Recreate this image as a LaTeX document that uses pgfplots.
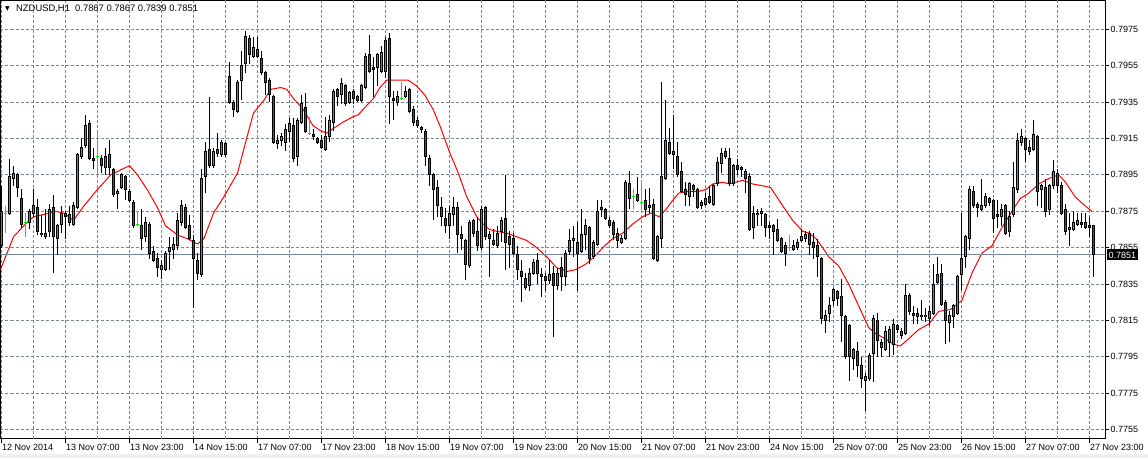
\documentclass[border=0pt]{standalone}
\usepackage{fontspec}
\setmainfont{Liberation Sans}
\newfontfamily\dejavu{DejaVu Sans}
\usepackage{pgfplots}
\usepackage{pgfplotstable}
\pgfplotsset{compat=1.18}
\definecolor{gridc}{RGB}{119,136,153}
\definecolor{upc}{RGB}{60,170,60}
\definecolor{dnc}{RGB}{215,25,25}
\definecolor{dojic}{RGB}{0,235,0}

\pgfplotstableread{
i o h l c
0 0.7856 0.7889 0.7855 0.7875
2 0.7874 0.7904 0.7873 0.7894
3 0.7893 0.7900 0.7889 0.7896
7 0.7869 0.7876 0.7865 0.7875
8 0.7874 0.7887 0.7872 0.7878
11 0.7861 0.7876 0.7860 0.7863
12 0.7864 0.7879 0.7861 0.7876
14 0.7860 0.7868 0.7851 0.7867
15 0.7868 0.7878 0.7863 0.7874
18 0.7868 0.7880 0.7867 0.7878
19 0.7877 0.7907 0.7876 0.7906
20 0.7905 0.7915 0.7904 0.7910
21 0.7911 0.7928 0.7910 0.7922
26 0.7899 0.7910 0.7895 0.7905
29 0.7885 0.7887 0.7876 0.7886
30 0.7888 0.7896 0.7887 0.7895
36 0.7861 0.7872 0.7858 0.7869
40 0.7843 0.7848 0.7838 0.7845
41 0.7843 0.7853 0.7842 0.7852
42 0.7853 0.7861 0.7843 0.7855
43 0.7854 0.7861 0.7849 0.7857
44 0.7856 0.7874 0.7854 0.7870
45 0.7869 0.7881 0.7867 0.7878
50 0.7840 0.7898 0.7839 0.7893
51 0.7894 0.7913 0.7885 0.7908
53 0.7900 0.7910 0.7899 0.7908
55 0.7906 0.7914 0.7905 0.7913
59 0.7930 0.7947 0.7929 0.7946
60 0.7947 0.7963 0.7936 0.7955
61 0.7956 0.7974 0.7951 0.7971
63 0.7960 0.7971 0.7959 0.7965
69 0.7912 0.7917 0.7909 0.7914
70 0.7914 0.7918 0.7911 0.7916
71 0.7913 0.7923 0.7908 0.7920
72 0.7919 0.7926 0.7913 0.7923
74 0.7905 0.7926 0.7900 0.7925
75 0.7924 0.7939 0.7923 0.7934
81 0.7909 0.7927 0.7908 0.7916
82 0.7916 0.7928 0.7913 0.7925
83 0.7924 0.7942 0.7919 0.7941
85 0.7939 0.7948 0.7934 0.7945
87 0.7935 0.7941 0.7934 0.7940
90 0.7936 0.7945 0.7935 0.7944
91 0.7943 0.7962 0.7942 0.7960
94 0.7954 0.7962 0.7944 0.7961
95 0.7952 0.7966 0.7951 0.7962
96 0.7952 0.7971 0.7948 0.7969
99 0.7935 0.7941 0.7933 0.7938
101 0.7938 0.7944 0.7937 0.7941
112 0.7867 0.7878 0.7860 0.7874
113 0.7873 0.7883 0.7867 0.7877
117 0.7845 0.7870 0.7844 0.7869
120 0.7855 0.7878 0.7854 0.7876
124 0.7856 0.7867 0.7855 0.7863
125 0.7864 0.7872 0.7858 0.7870
132 0.7834 0.7844 0.7831 0.7841
133 0.7841 0.7849 0.7840 0.7847
137 0.7837 0.7848 0.7835 0.7840
139 0.7834 0.7844 0.7832 0.7841
141 0.7839 0.7854 0.7834 0.7852
142 0.7853 0.7865 0.7851 0.7859
143 0.7859 0.7867 0.7850 0.7860
145 0.7853 0.7876 0.7852 0.7862
146 0.7862 0.7871 0.7854 0.7867
148 0.7850 0.7859 0.7849 0.7858
149 0.7857 0.7881 0.7856 0.7875
150 0.7876 0.7881 0.7872 0.7877
155 0.7858 0.7862 0.7857 0.7860
156 0.7860 0.7892 0.7859 0.7891
164 0.7848 0.7862 0.7847 0.7861
165 0.7860 0.7946 0.7855 0.7894
166 0.7893 0.7936 0.7892 0.7914
172 0.7883 0.7891 0.7878 0.7890
175 0.7878 0.7881 0.7876 0.7880
176 0.7879 0.7885 0.7878 0.7882
178 0.7879 0.7890 0.7878 0.7889
179 0.7890 0.7905 0.7889 0.7902
180 0.7901 0.7910 0.7896 0.7907
183 0.7890 0.7901 0.7889 0.7900
188 0.7866 0.7878 0.7860 0.7874
189 0.7873 0.7876 0.7867 0.7874
190 0.7874 0.7877 0.7867 0.7875
198 0.7854 0.7859 0.7853 0.7856
199 0.7855 0.7860 0.7854 0.7858
200 0.7859 0.7865 0.7858 0.7861
201 0.7860 0.7864 0.7858 0.7862
206 0.7815 0.7821 0.7808 0.7818
207 0.7819 0.7828 0.7814 0.7823
208 0.7826 0.7833 0.7823 0.7832
213 0.7794 0.7800 0.7788 0.7799
216 0.7782 0.7786 0.7765 0.7784
217 0.7783 0.7797 0.7782 0.7796
218 0.7797 0.7818 0.7781 0.7816
221 0.7799 0.7812 0.7798 0.7809
222 0.7803 0.7812 0.7795 0.7810
223 0.7802 0.7816 0.7796 0.7813
226 0.7808 0.7835 0.7807 0.7829
231 0.7817 0.7822 0.7814 0.7818
232 0.7816 0.7823 0.7812 0.7820
233 0.7819 0.7846 0.7818 0.7835
234 0.7836 0.7850 0.7835 0.7840
237 0.7814 0.7820 0.7803 0.7818
238 0.7817 0.7824 0.7811 0.7823
239 0.7819 0.7840 0.7818 0.7839
240 0.7840 0.7874 0.7832 0.7849
241 0.7850 0.7862 0.7844 0.7861
242 0.7860 0.7889 0.7854 0.7887
245 0.7876 0.7893 0.7875 0.7878
246 0.7878 0.7885 0.7877 0.7883
250 0.7872 0.7879 0.7867 0.7876
252 0.7864 0.7875 0.7861 0.7872
253 0.7873 0.7902 0.7872 0.7888
254 0.7887 0.7918 0.7885 0.7914
255 0.7913 0.7920 0.7911 0.7916
258 0.7909 0.7925 0.7908 0.7917
260 0.7887 0.7890 0.7877 0.7889
262 0.7876 0.7890 0.7873 0.7889
263 0.7889 0.7903 0.7887 0.7897
267 0.7865 0.7874 0.7856 0.7866
268 0.7865 0.7875 0.7864 0.7869
269 0.7868 0.7874 0.7867 0.7870
}\upt

\pgfplotstableread{
i o h l c
4 0.7895 0.7896 0.7883 0.7888
5 0.7882 0.7887 0.7866 0.7868
9 0.7877 0.7882 0.7862 0.7864
10 0.7863 0.7873 0.7861 0.7862
13 0.7877 0.7884 0.7841 0.7861
16 0.7874 0.7875 0.7860 0.7872
17 0.7873 0.7878 0.7867 0.7869
22 0.7923 0.7925 0.7903 0.7904
23 0.7904 0.7910 0.7898 0.7903
25 0.7904 0.7906 0.7896 0.7900
27 0.7906 0.7914 0.7895 0.7899
28 0.7898 0.7899 0.7883 0.7884
31 0.7894 0.7895 0.7881 0.7887
32 0.7886 0.7887 0.7880 0.7881
33 0.7880 0.7881 0.7866 0.7867
35 0.7867 0.7876 0.7854 0.7860
37 0.7868 0.7869 0.7849 0.7852
38 0.7853 0.7856 0.7847 0.7848
39 0.7849 0.7852 0.7839 0.7844
46 0.7877 0.7879 0.7865 0.7866
47 0.7867 0.7873 0.7859 0.7860
48 0.7859 0.7862 0.7822 0.7849
49 0.7848 0.7852 0.7837 0.7841
52 0.7909 0.7938 0.7899 0.7900
54 0.7909 0.7918 0.7905 0.7907
56 0.7912 0.7913 0.7905 0.7906
57 0.7949 0.7957 0.7934 0.7935
58 0.7935 0.7936 0.7927 0.7931
62 0.7970 0.7972 0.7956 0.7961
64 0.7964 0.7971 0.7959 0.7960
65 0.7959 0.7963 0.7950 0.7951
66 0.7951 0.7952 0.7939 0.7946
67 0.7947 0.7948 0.7935 0.7939
68 0.7938 0.7939 0.7912 0.7913
73 0.7922 0.7926 0.7902 0.7904
76 0.7932 0.7940 0.7918 0.7919
78 0.7917 0.7920 0.7914 0.7916
79 0.7915 0.7916 0.7912 0.7913
80 0.7914 0.7917 0.7909 0.7910
84 0.7942 0.7943 0.7933 0.7938
86 0.7944 0.7945 0.7933 0.7934
88 0.7941 0.7942 0.7934 0.7937
89 0.7938 0.7939 0.7935 0.7936
92 0.7961 0.7972 0.7951 0.7952
93 0.7954 0.7960 0.7938 0.7953
97 0.7970 0.7973 0.7923 0.7938
98 0.7937 0.7941 0.7925 0.7936
102 0.7942 0.7943 0.7929 0.7930
103 0.7931 0.7933 0.7922 0.7924
104 0.7925 0.7927 0.7921 0.7922
105 0.7921 0.7922 0.7918 0.7920
106 0.7919 0.7920 0.7900 0.7905
107 0.7904 0.7906 0.7889 0.7895
108 0.7895 0.7896 0.7870 0.7887
109 0.7888 0.7892 0.7872 0.7878
110 0.7877 0.7883 0.7867 0.7872
111 0.7871 0.7877 0.7863 0.7867
114 0.7877 0.7880 0.7852 0.7862
115 0.7862 0.7867 0.7854 0.7860
116 0.7859 0.7860 0.7837 0.7846
118 0.7870 0.7871 0.7861 0.7863
119 0.7864 0.7872 0.7853 0.7856
121 0.7877 0.7878 0.7859 0.7861
122 0.7862 0.7864 0.7839 0.7860
123 0.7859 0.7865 0.7856 0.7857
126 0.7871 0.7895 0.7843 0.7858
127 0.7861 0.7864 0.7844 0.7857
128 0.7860 0.7863 0.7851 0.7852
129 0.7851 0.7856 0.7837 0.7843
130 0.7842 0.7848 0.7825 0.7839
131 0.7838 0.7841 0.7832 0.7833
134 0.7848 0.7852 0.7835 0.7841
135 0.7840 0.7844 0.7828 0.7839
136 0.7839 0.7841 0.7831 0.7837
138 0.7841 0.7845 0.7806 0.7834
140 0.7844 0.7850 0.7831 0.7839
144 0.7858 0.7869 0.7831 0.7852
147 0.7866 0.7867 0.7846 0.7849
151 0.7876 0.7877 0.7870 0.7871
152 0.7870 0.7872 0.7866 0.7867
153 0.7869 0.7870 0.7859 0.7862
154 0.7863 0.7866 0.7855 0.7859
157 0.7890 0.7897 0.7876 0.7882
159 0.7884 0.7894 0.7880 0.7881
161 0.7881 0.7887 0.7872 0.7876
162 0.7878 0.7888 0.7874 0.7877
163 0.7879 0.7882 0.7848 0.7849
167 0.7913 0.7921 0.7906 0.7907
168 0.7908 0.7928 0.7898 0.7906
169 0.7905 0.7913 0.7894 0.7895
170 0.7897 0.7902 0.7885 0.7886
171 0.7887 0.7891 0.7878 0.7884
173 0.7889 0.7890 0.7883 0.7887
174 0.7887 0.7888 0.7876 0.7877
177 0.7883 0.7889 0.7879 0.7880
181 0.7908 0.7910 0.7904 0.7905
182 0.7904 0.7910 0.7889 0.7890
184 0.7900 0.7904 0.7895 0.7898
185 0.7899 0.7900 0.7894 0.7898
186 0.7897 0.7898 0.7885 0.7893
187 0.7894 0.7896 0.7864 0.7865
191 0.7873 0.7874 0.7861 0.7866
192 0.7867 0.7869 0.7860 0.7866
193 0.7867 0.7868 0.7851 0.7864
194 0.7865 0.7871 0.7858 0.7859
195 0.7860 0.7861 0.7852 0.7853
196 0.7856 0.7858 0.7845 0.7852
202 0.7863 0.7864 0.7851 0.7857
203 0.7858 0.7863 0.7849 0.7855
204 0.7856 0.7860 0.7839 0.7850
205 0.7849 0.7850 0.7813 0.7816
209 0.7831 0.7832 0.7823 0.7827
210 0.7828 0.7838 0.7803 0.7818
211 0.7817 0.7818 0.7794 0.7795
212 0.7812 0.7813 0.7782 0.7795
214 0.7798 0.7803 0.7784 0.7790
215 0.7790 0.7795 0.7778 0.7783
219 0.7815 0.7819 0.7795 0.7804
220 0.7803 0.7805 0.7795 0.7800
224 0.7812 0.7813 0.7808 0.7810
225 0.7809 0.7811 0.7805 0.7807
227 0.7829 0.7830 0.7818 0.7820
228 0.7819 0.7823 0.7813 0.7818
229 0.7819 0.7822 0.7813 0.7817
230 0.7818 0.7826 0.7815 0.7817
235 0.7841 0.7846 0.7823 0.7824
236 0.7825 0.7826 0.7802 0.7815
243 0.7886 0.7889 0.7877 0.7878
244 0.7879 0.7880 0.7872 0.7877
247 0.7882 0.7883 0.7878 0.7880
248 0.7881 0.7882 0.7863 0.7871
249 0.7873 0.7881 0.7866 0.7872
251 0.7878 0.7879 0.7862 0.7863
256 0.7915 0.7916 0.7902 0.7909
257 0.7910 0.7914 0.7906 0.7908
259 0.7916 0.7917 0.7878 0.7886
261 0.7888 0.7893 0.7872 0.7875
264 0.7896 0.7898 0.7885 0.7889
265 0.7889 0.7891 0.7873 0.7874
266 0.7876 0.7879 0.7862 0.7864
270 0.7869 0.7874 0.7866 0.7868
271 0.7869 0.7874 0.7865 0.7866
272 0.7867 0.7872 0.7861 0.7866
273 0.7867 0.7867 0.7839 0.7851
}\dnt

\pgfplotstableread{
i p h l
1 0.7874 0.7878 0.7863
6 0.7869 0.7874 0.7861
24 0.7905 0.7918 0.7895
34 0.7868 0.7875 0.7867
77 0.7918 0.7927 0.7917
100 0.7937 0.7946 0.7936
158 0.7883 0.7887 0.7876
160 0.7880 0.7891 0.7875
197 0.7855 0.7862 0.7853
}\dojit

\pgfplotsset{
  eb/.style 2 args={draw=none, mark=none, forget plot,
    /pgfplots/error bars/y dir=minus,
    /pgfplots/error bars/y explicit,
    /pgfplots/error bars/error mark=none,
    /pgfplots/error bars/error bar style={draw=#1, line width=#2}},
}

\begin{document}
\begin{tikzpicture}
\path[use as bounding box, fill=white] (0pt,0pt) rectangle (1148pt,458pt);
\fill[black!6] (0pt,0pt) rectangle (1148pt,4pt);
\begin{axis}[
  at={(0.5pt,457.5pt)}, anchor=north west,
  scale only axis, width=1105pt, height=438pt,
  xmin=-0.25, xmax=276, ymin=0.775016, ymax=0.799082,
  axis line style={black, line width=1pt},
  font=\fontsize{9}{10}\selectfont,
  /pgf/number format/assume math mode=true,
  tick align=outside, major tick length=4pt,
  tick style={black, line width=1pt},
  xtick={0,16,...,272},
  xticklabels={{12 Nov 2014},{13 Nov 07:00},{13 Nov 23:00},{14 Nov 15:00},{17 Nov 07:00},{17 Nov 23:00},{18 Nov 15:00},{19 Nov 07:00},{19 Nov 23:00},{20 Nov 15:00},{21 Nov 07:00},{21 Nov 23:00},{24 Nov 15:00},{25 Nov 07:00},{25 Nov 23:00},{26 Nov 15:00},{27 Nov 07:00},{27 Nov 23:00}},
  extra x ticks={8,24,...,264},
  extra x tick labels={},
  extra x tick style={major tick length=0pt, xmajorgrids},
  xmajorgrids, ymajorgrids,
  grid style={gridc, line width=1pt, dash pattern=on 3pt off 2pt},
  xtick pos=lower, ytick pos=right, yticklabel pos=right,
  ytick={0.7755,0.7775,0.7795,0.7815,0.7835,0.7855,0.7875,0.7895,0.7915,0.7935,0.7955,0.7975},
  scaled y ticks=false,
  y tick label style={/pgf/number format/fixed, /pgf/number format/fixed zerofill, /pgf/number format/precision=4},
  yticklabel style={anchor=west, inner sep=0pt, xshift=1pt},
  xticklabel style={anchor=north west, inner sep=0pt, xshift=0.5pt, yshift=-2pt},
]
% MA line
\addplot[red, line width=1pt, forget plot] coordinates {
(-0.25,0.7843) (3,0.7861) (6,0.7868) (8,0.7872) (10,0.7873) (12,0.7874) (13.5,0.7875) (15.6,0.7874) (18,0.7870) (20.6,0.7878) (24,0.7887) (27.3,0.7895) (30,0.7898) (32,0.7900) (34,0.7895) (36.4,0.7887) (39,0.7877) (41,0.7867) (44,0.7862) (46.4,0.7860) (49,0.7857) (50.6,0.7860) (53,0.7874) (55.6,0.7883) (59,0.7896) (61.4,0.7916) (63,0.7929) (65.6,0.7936) (67.3,0.7942) (69.8,0.7943) (71.3,0.7942) (73,0.7937) (75.4,0.7931) (77.9,0.7922) (80,0.7919) (81.3,0.7918) (83.3,0.7921) (85.4,0.7924) (87.9,0.7927) (89.2,0.7928) (90.8,0.7932) (93,0.7937) (94.6,0.7943) (96.3,0.7947) (98.8,0.7947) (101.7,0.7947) (103.7,0.7944) (105.8,0.7939) (107.9,0.7931) (109.6,0.7922) (112.1,0.7907) (114.2,0.7896) (116.3,0.7883) (118.8,0.7872) (120.4,0.7868) (122,0.7865) (123.8,0.7864) (126.3,0.7863) (128.8,0.7861) (131.3,0.7859) (133.8,0.7855) (136.3,0.7850) (138.8,0.7844) (141.5,0.7842) (143.6,0.7843) (146.1,0.7846) (148.2,0.7850) (150.3,0.7855) (152.8,0.7860) (155.3,0.7863) (157.8,0.7868) (160.3,0.7872) (162.3,0.7874) (164.4,0.7872) (166.1,0.7876) (167.8,0.7881) (169.3,0.7885) (171.9,0.7886) (174.4,0.7886) (176.1,0.7887) (177.8,0.7890) (180.3,0.7891) (181.9,0.7890) (183.6,0.7891) (185.3,0.7892) (187.8,0.7890) (190.3,0.7889) (192.3,0.7888) (195.3,0.7878) (197.8,0.7870) (200.3,0.7864) (201.9,0.7863) (203.6,0.7860) (205.3,0.7855) (206.8,0.7850) (209.3,0.7845) (211.8,0.7835) (214.3,0.7823) (216.8,0.7811) (218.4,0.7808) (220.9,0.7805) (223,0.7802) (224.7,0.7801) (226.8,0.7805) (229.3,0.7810) (231.8,0.7813) (234.3,0.7820) (237.2,0.7821) (240.1,0.7826) (242.6,0.7841) (245.1,0.7852) (247.6,0.7856) (250.1,0.7866) (252.6,0.7875) (254.7,0.7882) (256.8,0.7885) (259.3,0.7890) (261.8,0.7893) (264.3,0.7895) (266,0.7891) (268.4,0.7883) (270.9,0.7878) (272.6,0.7875)};
% current price line
\addplot[gridc, line width=1pt, forget plot] coordinates {(-0.25,0.7851) (276,0.7851)};
% wicks
\addplot[eb={black}{1pt}] table[x=i, y=h, y error minus expr=\thisrow{h}-\thisrow{l}] {\upt};
\addplot[eb={black}{1pt}] table[x=i, y=h, y error minus expr=\thisrow{h}-\thisrow{l}] {\dnt};
% bodies (black outline)
\addplot[eb={black}{3.2pt}] table[x=i, y expr=\thisrow{c}+0.0000275, y error minus expr=\thisrow{c}-\thisrow{o}+0.000055] {\upt};
\addplot[eb={black}{3.2pt}] table[x=i, y expr=\thisrow{o}+0.0000275, y error minus expr=\thisrow{o}-\thisrow{c}+0.000055] {\dnt};
% body fills
\addplot[eb={upc}{1.3pt}] table[x=i, y expr=\thisrow{c}-0.0000275, y error minus expr=\thisrow{c}-\thisrow{o}-0.000055] {\upt};
\addplot[eb={dnc}{1.3pt}] table[x=i, y expr=\thisrow{o}-0.0000275, y error minus expr=\thisrow{o}-\thisrow{c}-0.000055] {\dnt};
% doji
\addplot[eb={dojic}{1pt}] table[x=i, y=h, y error minus expr=\thisrow{h}-\thisrow{l}] {\dojit};
\addplot[only marks, mark=-, mark size=1.5pt, mark options={draw=dojic, line width=1pt}, forget plot] table[x=i, y=p] {\dojit};
\end{axis}
\node[anchor=center, inner sep=0pt, font=\dejavu\fontsize{6}{6}\selectfont] at (7.5pt,449.5pt) {▼};
\node[anchor=base west, inner sep=0pt, font=\fontsize{9.4}{10}\selectfont] at (16pt,446pt) {NZDUSD,H1\ \ 0.7867 0.7867 0.7839 0.7851};
\node[fill=black, text=white, anchor=west, inner xsep=2pt, inner ysep=0pt, minimum height=11pt, font=\fontsize{9}{10}\selectfont] at (1106.5pt,203pt) {0.7851};
\end{tikzpicture}
\end{document}
